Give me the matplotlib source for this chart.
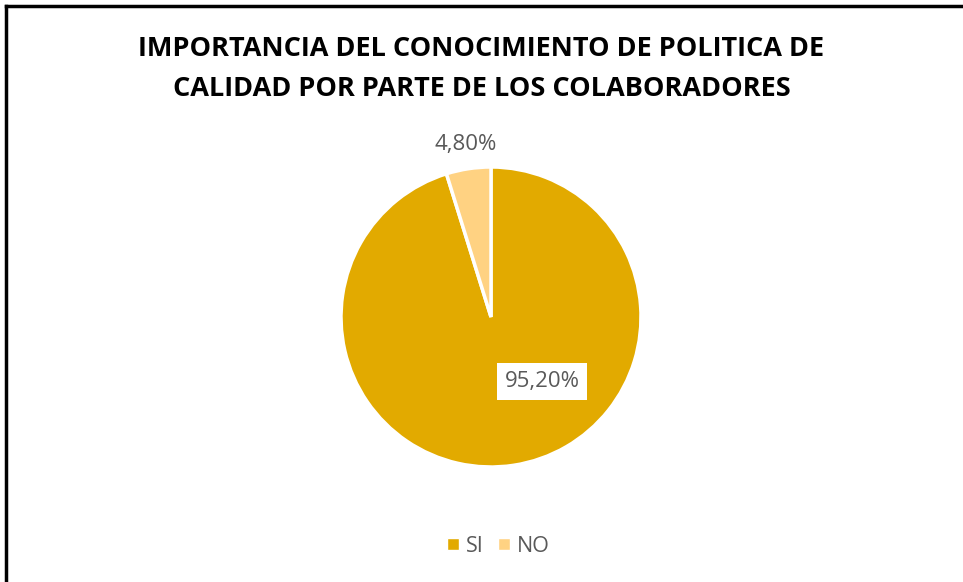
import matplotlib.pyplot as plt
from matplotlib.lines import Line2D

categories = ["SI", "NO"]
values = [95.20, 4.80]
labels = ["95,20%", "4,80%"]
colors = ["#E2AA00", "#FFD282"]
title = "IMPORTANCIA DEL CONOCIMIENTO DE POLITICA DE\nCALIDAD POR PARTE DE LOS COLABORADORES"

W, H = 963, 582
fig = plt.figure(figsize=(W / 100, H / 100), dpi=100)
plt.rcParams["font.family"] = ["Open Sans", "DejaVu Sans"]

# pie axes: centre (491, 317), radius 150 px
cx, cy, r = 491, 317, 150
ax = fig.add_axes([(cx - r) / W, 1 - (cy + r) / H, 2 * r / W, 2 * r / H])
wedges, _ = ax.pie(
    values,
    colors=colors,
    startangle=90,
    counterclock=False,
    wedgeprops=dict(edgecolor="white", linewidth=2.5),
    radius=1,
)
ax.set_xlim(-1, 1)
ax.set_ylim(-1, 1)
ax.set_aspect("equal")

ax.text(0.34, -0.43, labels[0], ha="center", va="center", fontsize=16,
        color="#595959",
        bbox=dict(boxstyle="square,pad=0.35", facecolor="white", edgecolor="none"))
ax.text(-0.17, 1.15, labels[1], ha="center", va="center", fontsize=16,
        color="#595959")

fig.text(0.5, 1 - 69.5 / H, title, ha="center", va="center", fontsize=19.5,
         fontweight="bold", color="black", linespacing=1.7)

handles = [Line2D([0], [0], marker="s", color="w", markerfacecolor=c,
                  markersize=8, label=n) for c, n in zip(colors, categories)]
fig.legend(handles=handles, loc="center", bbox_to_anchor=(496 / W, 1 - 546 / H),
           ncol=2, frameon=False, fontsize=15.5, handletextpad=0.1,
           columnspacing=0.45, labelcolor="#595959", handlelength=1.0)

# chart border (top and left edges visible)
fig.add_artist(Line2D([6 / W, 1], [1 - 6 / H, 1 - 6 / H], color="black", lw=2.5))
fig.add_artist(Line2D([6 / W, 6 / W], [1 - 6 / H, 0], color="black", lw=2.5))

fig.savefig("out.png", dpi=100)
